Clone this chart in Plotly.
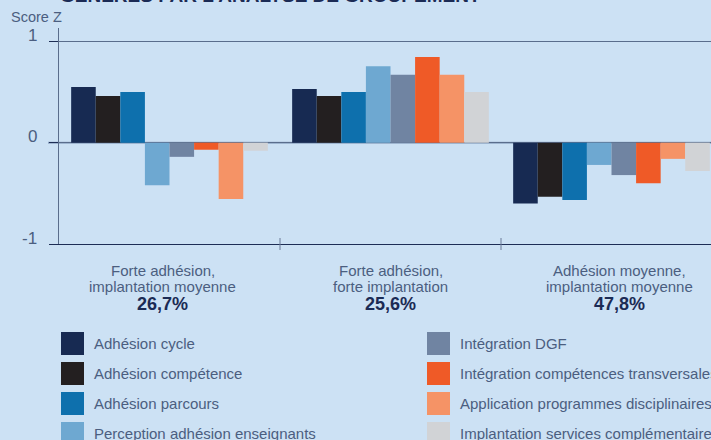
import plotly.graph_objects as go

##### DATA
groups = ["Forte adhésion,<br>implantation moyenne",
          "Forte adhésion,<br>forte implantation",
          "Adhésion moyenne,<br>implantation moyenne"]
group_share = ["26,7%", "25,6%", "47,8%"]

series_names = ["Adhésion cycle", "Adhésion compétence", "Adhésion parcours",
                "Perception adhésion enseignants", "Intégration DGF",
                "Intégration compétences transversales",
                "Application programmes disciplinaires",
                "Implantation services complémentaires"]
series_colors = ["#172a52", "#231f20", "#0e70ad", "#6ea8d1",
                 "#7084a2", "#ef5a27", "#f59366", "#d1d3d6"]

adhesion_cycle = [0.55, 0.53, -0.60]
adhesion_competence = [0.46, 0.46, -0.535]
adhesion_parcours = [0.50, 0.50, -0.565]
perception_enseignants = [-0.42, 0.755, -0.22]
integration_dgf = [-0.14, 0.67, -0.32]
integration_transversales = [-0.07, 0.845, -0.40]
application_programmes = [-0.555, 0.67, -0.16]
implantation_services = [-0.08, 0.50, -0.28]

series_values = [adhesion_cycle, adhesion_competence, adhesion_parcours,
                 perception_enseignants, integration_dgf,
                 integration_transversales, application_programmes,
                 implantation_services]

y_ticks = [1, 0, -1]
y_ticktext = ["1", "0", "-1"]

title_text = "GÉNÉRÉS PAR L'ANALYSE DE GROUPEMENT"


##### LAYOUT HELPERS (pixel -> paper)
W, H = 711, 440
L, T, B = 59, 28, 196
PW, PH = W - L, H - T - B

def px_x(px):
    return (px - L) / PW

def px_y(py):
    return (H - B - py) / PH

FONT = "Liberation Sans, Arial, sans-serif"
TXT = "#4b5e80"
NAVY = "#1b2b55"


##### FIGURE
fig = go.Figure()
for name, color, vals in zip(series_names, series_colors, series_values):
    fig.add_trace(go.Bar(x=groups, y=vals, name=name, marker_color=color,
                         marker_line_width=0, showlegend=False))

annotations = []
shapes = []

# y tick labels
for v, t in zip(y_ticks, y_ticktext):
    annotations.append(dict(x=px_x(39), xref="paper", y=v, yref="y", text=t,
                            showarrow=False, xanchor="right", yanchor="middle",
                            yshift=6, font=dict(size=17, color=TXT, family=FONT)))

# axis title
annotations.append(dict(x=px_x(9), xref="paper", y=px_y(17), yref="paper",
                        text="Score Z", showarrow=False, xanchor="left",
                        yanchor="middle", font=dict(size=14.5, color=TXT, family=FONT)))

# clipped title
annotations.append(dict(x=px_x(58), xref="paper", y=px_y(-4.5), yref="paper",
                        text="<b>" + title_text + "</b>", showarrow=False,
                        xanchor="left", yanchor="middle",
                        font=dict(size=19, color=NAVY, family=FONT)))

# category labels, one annotation per line
label_shift = [-0.03, 0.0, 0.036]
for i, (g, s) in enumerate(zip(groups, group_share)):
    l1, l2 = g.split("<br>")
    for txt, dy, size, col in [(l1, 270, 15, TXT), (l2, 286, 15, TXT),
                               ("<b>" + s + "</b>", 304, 18, NAVY)]:
        annotations.append(dict(x=i + label_shift[i], xref="x", y=px_y(dy),
                                yref="paper", text=txt, showarrow=False,
                                xanchor="center", yanchor="middle",
                                font=dict(size=size, color=col, family=FONT)))

# category separators crossing the x axis line
for i in range(len(groups) - 1):
    shapes.append(dict(type="line", xref="x", yref="y domain",
                       x0=i + 0.5, x1=i + 0.5, y0=-6 / PH, y1=6 / PH,
                       line=dict(color="#6a7b98", width=1)))

# zero line
shapes.append(dict(type="line", xref="paper", yref="y", x0=px_x(48), x1=1,
                   y0=0, y1=0, layer="below",
                   line=dict(color="#8fa6c4", width=2)))

# manual legend, two columns of four
for i, (name, color) in enumerate(zip(series_names, series_colors)):
    col, row = i // 4, i % 4
    x0 = 61 if col == 0 else 427
    y0 = 332 + 30 * row
    shapes.append(dict(type="rect", xref="paper", yref="paper",
                       x0=px_x(x0), x1=px_x(x0 + 23),
                       y0=px_y(y0 + 23), y1=px_y(y0),
                       fillcolor=color, line_width=0))
    annotations.append(dict(x=px_x(x0 + 31), xref="paper", y=px_y(y0 + 11.5),
                            yref="paper", text=name, showarrow=False,
                            xanchor="left", yanchor="middle",
                            font=dict(size=15, color=TXT, family=FONT)))

fig.update_layout(
    width=W, height=H,
    margin=dict(l=L, r=0, t=T, b=B, pad=0),
    paper_bgcolor="#cce1f4", plot_bgcolor="#cce1f4",
    barmode="group", bargap=0.11, bargroupgap=0,
    showlegend=False,
    font=dict(family=FONT, color=TXT),
    annotations=annotations, shapes=shapes,
)
fig.update_xaxes(range=[-0.5, -0.5 + PW / 221], showticklabels=False,
                 ticks="", showgrid=False, showline=True,
                 linecolor="#1d2d55", linewidth=1.2, zeroline=False)
fig.update_yaxes(range=[-1, 1 + 13.3 / 101.4], tickvals=y_ticks,
                 showticklabels=False, ticks="outside", ticklen=9,
                 tickcolor="#1d2d55", tickwidth=1,
                 showgrid=True, gridcolor="#5a6d8c", gridwidth=1,
                 showline=True, linecolor="#5a6d8c", linewidth=1,
                 zeroline=False)

fig.write_html("out.html", config={"displayModeBar": False},
               post_script="document.body.style.margin='0';document.body.style.background='#cce1f4';")
